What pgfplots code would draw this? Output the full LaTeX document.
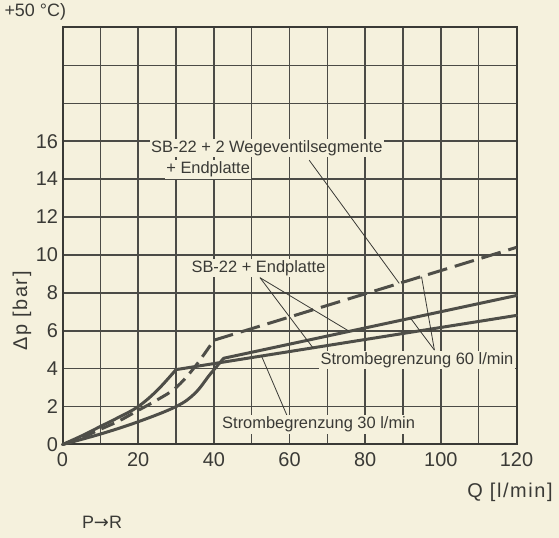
\documentclass[border=0pt]{standalone}
\usepackage{fontspec}
\setmainfont{Liberation Sans}
\newfontfamily\dejavu{DejaVu Sans}
\usepackage{pgfplots}
\pgfplotsset{compat=1.18}
\definecolor{paper}{RGB}{245,241,221}
\definecolor{ink}{RGB}{58,58,54}
\definecolor{gridc}{RGB}{75,75,70}
\definecolor{curve}{RGB}{78,78,72}
\newcommand\lbl{\fontsize{16.5}{19}\selectfont}
\newcommand\bigf{\fontsize{20}{24}\selectfont}
\newcommand\prf{\fontsize{18}{21}\selectfont}
\begin{document}
\begin{tikzpicture}[x=1bp,y=1bp]
\fill[paper] (0,0) rectangle (559,538);
\useasboundingbox (0,0) rectangle (559,538);
\begin{axis}[
  at={(62.5bp,93.5bp)}, anchor=south west,
  scale only axis, width=454bp, height=417bp,
  xmin=0, xmax=120, ymin=0, ymax=22,
  xtick={0,10,...,120}, xticklabels={0,,20,,40,,60,,80,,100,,120},
  ytick={0,2,...,22}, yticklabels={0,2,4,6,8,10,12,14,16,,,},
  grid=major, major grid style={gridc, line width=1.5bp},
  axis line style={ink, line width=2bp},
  major tick length=0pt,
  tick label style={font=\bigf, text=ink},
  /pgf/number format/assume math mode=true,
  xticklabel style={yshift=-5bp},
  yticklabel style={xshift=-1bp},
  clip=false,
]
% Strombegrenzung 30 l/min (lower solid)
\addplot[curve, line width=3bp, line cap=round, smooth, tension=0.6] coordinates {(0,0)(5,0.45)(10,0.95)(15,1.45)(20,2.0)(25,2.85)(30,3.95)};
\addplot[curve, line width=3bp, line cap=round] coordinates {(30,3.95)(120,6.81)};
% Strombegrenzung 60 l/min (upper solid)
\addplot[curve, line width=3bp, line cap=round, smooth, tension=0.6] coordinates {(0,0)(10,0.55)(20,1.2)(30,2.0)(35,2.7)(39,3.7)(42.6,4.55)};
\addplot[curve, line width=3bp, line cap=round] coordinates {(42.6,4.55)(120,7.86)};
% SB-22 + 2 Wegeventilsegmente + Endplatte (dashed)
\addplot[curve, line width=3bp, dash pattern=on 14bp off 7bp, smooth, tension=0.6] coordinates {(0,0)(5,0.35)(10,0.8)(15,1.25)(20,1.8)(25,2.35)(30,3.0)(35,4.1)(40,5.5)};
\addplot[curve, line width=3bp, dash pattern=on 20bp off 8bp] coordinates {(40,5.5)(120,10.4)};
% leader lines
\draw[ink, line width=0.8bp] (axis cs:65.2,15.0) -- (axis cs:89,8.5);
\draw[ink, line width=0.8bp] (axis cs:52.2,8.8) -- (axis cs:75.8,5.97);
\draw[ink, line width=0.8bp] (axis cs:52.2,8.8) -- (axis cs:66.2,5.10);
\draw[ink, line width=0.8bp] (axis cs:98.3,4.98) -- (axis cs:92,6.66);
\draw[ink, line width=0.8bp] (axis cs:98.3,4.98) -- (axis cs:94.9,8.85);
\draw[ink, line width=0.8bp] (axis cs:59.4,1.5) -- (axis cs:52.6,4.67);
% labels
\node[fill=paper, inner sep=1.5bp, text=ink, font=\lbl] at (axis cs:54,15.65) {SB-22 + 2 Wegeventilsegmente};
\node[fill=paper, inner sep=1.5bp, text=ink, font=\lbl] at (axis cs:38.5,14.5) {+ Endplatte};
\node[fill=paper, inner sep=1.5bp, text=ink, font=\lbl] at (axis cs:51.8,9.3) {SB-22 + Endplatte};
\node[fill=paper, inner sep=1.5bp, text=ink, font=\lbl] at (axis cs:93.7,4.45) {Strombegrenzung 60 l/min};
\node[fill=paper, inner sep=1.5bp, text=ink, font=\lbl] at (axis cs:67.7,1.05) {Strombegrenzung 30 l/min};
\end{axis}
\node[rotate=90, text=ink, font=\bigf\addfontfeature{LetterSpace=8}] at (22,227) {Δp [bar]};
\node[text=ink, font=\bigf\addfontfeature{LetterSpace=8}] at (510,46) {Q [l/min]};
\node[text=ink, font=\prf] at (102,16) {P{\dejavu →}R};
\node[text=ink, font=\prf, anchor=base west] at (1,521) {+50 °C)};
\end{tikzpicture}
\end{document}
